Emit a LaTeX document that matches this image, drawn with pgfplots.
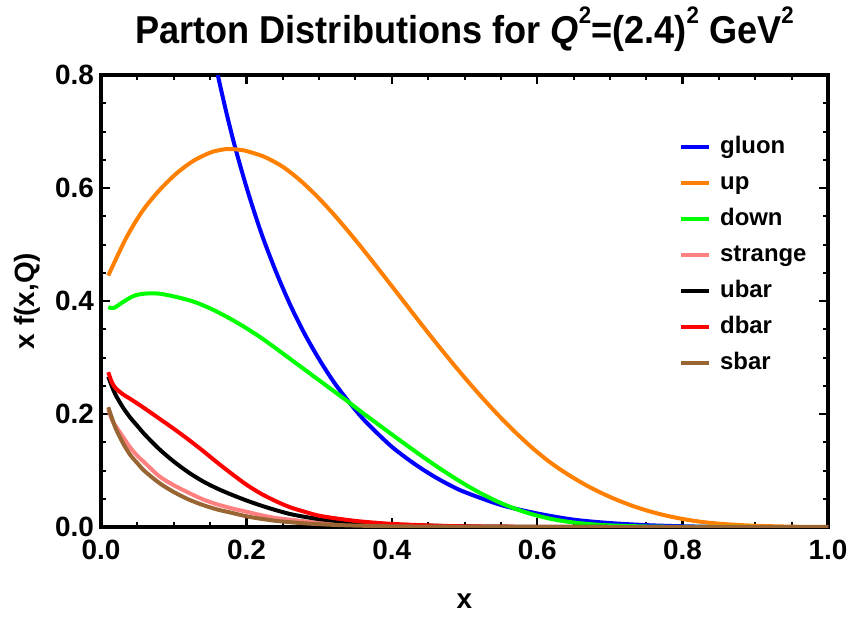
\documentclass[border=0pt]{standalone}
\usepackage{fontspec}
\setmainfont{Liberation Sans}
\newfontfamily\titlefont[FakeStretch=0.93]{Liberation Sans}
\usepackage{pgfplots}
\pgfplotsset{compat=1.18}

\definecolor{mmaorange}{rgb}{1,0.5,0}
\definecolor{mmapink}{rgb}{1,0.5,0.5}
\definecolor{mmabrown}{rgb}{0.6,0.4,0.2}

% superscript as drawn in the title
\newcommand\tsup[1]{\raisebox{0.5em}{\fontsize{24}{24}\selectfont #1}}

\begin{document}
\begin{tikzpicture}
\path[use as bounding box] (-101bp,-90bp) rectangle (752bp,527bp);
\begin{axis}[
  at={(0,0)}, anchor=south west,
  scale only axis, width=727bp, height=452bp,
  xmin=0, xmax=1, ymin=0, ymax=0.8,
  xtick={0,0.2,0.4,0.6,0.8,1.0},
  ytick={0,0.2,0.4,0.6,0.8},
  minor x tick num=3, minor y tick num=3,
  tick pos=both, xticklabel pos=lower, yticklabel pos=left,
  tick align=inside,
  major tick length=9bp, minor tick length=5bp,
  major tick style={line width=2.5bp, black},
  minor tick style={line width=2bp, black},
  axis line style={line width=3.5bp},
  /pgf/number format/assume math mode=true,
  xticklabel style={font=\fontsize{28}{28}\selectfont\bfseries, inner sep=0pt, yshift=-13bp,
    /pgf/number format/fixed, /pgf/number format/fixed zerofill, /pgf/number format/precision=1},
  yticklabel style={font=\fontsize{28}{28}\selectfont\bfseries, inner sep=0pt, xshift=-7bp,
    /pgf/number format/fixed, /pgf/number format/fixed zerofill, /pgf/number format/precision=1},
  title={Parton Distributions for {\itshape Q}\tsup{2}=(2.4)\tsup{2} GeV\tsup{2}},
  title style={font=\titlefont\fontsize{39}{39}\selectfont\bfseries, at={(0.5,1)}, anchor=base, inner sep=0pt, yshift=26bp},
  xlabel={x},
  xlabel style={font=\fontsize{28}{28}\selectfont\bfseries, at={(0.5,0)}, anchor=base, inner sep=0pt, yshift=-81bp},
  ylabel={x f(x,Q)},
  ylabel style={font=\fontsize{28}{28}\selectfont\bfseries, at={(0,0.5)}, anchor=center, inner sep=0pt, yshift=74bp},
  legend cell align=left,
  legend image code/.code={\draw[#1] (0bp,0bp) -- (28bp,0bp);},
  legend style={draw=none, fill=none, at={(0.795,0.867)}, anchor=north west,
    font=\fontsize{24}{24}\selectfont\bfseries, inner sep=0pt, row sep=12bp, column sep=9bp,
    nodes={inner sep=0pt, text height=18bp, text depth=6bp}},
  every axis plot/.append style={line width=4bp, smooth},
]
% gluon
\addplot[blue] coordinates {
(0.12,1.094) (0.14,0.934) (0.16,0.804) (0.18,0.694) (0.20,0.602) (0.22,0.522)
(0.24,0.454) (0.26,0.394) (0.28,0.342) (0.30,0.297) (0.32,0.257) (0.34,0.223)
(0.36,0.192) (0.38,0.166) (0.40,0.142) (0.42,0.122) (0.44,0.104) (0.46,0.088)
(0.48,0.074) (0.50,0.062) (0.55,0.039) (0.60,0.024) (0.65,0.013) (0.70,0.007)
(0.75,0.0033) (0.80,0.0013) (0.85,0.0003) (0.90,0.0) (1.0,0.0)};
\addlegendentry{gluon}
% up
\addplot[mmaorange] coordinates {
(0.01,0.445) (0.035,0.5125) (0.058,0.561) (0.081,0.597) (0.104,0.626) (0.127,0.648)
(0.15,0.6625) (0.165,0.6675) (0.175,0.669) (0.19,0.6678) (0.2,0.6655) (0.225,0.655)
(0.25,0.6376) (0.274,0.6135) (0.297,0.5854) (0.319,0.555) (0.342,0.5204) (0.366,0.4823)
(0.389,0.4446) (0.411,0.4081) (0.434,0.3699) (0.457,0.3322) (0.48,0.2955) (0.503,0.2602)
(0.526,0.2265) (0.549,0.1946) (0.572,0.1651) (0.595,0.1381) (0.618,0.1142) (0.641,0.094)
(0.664,0.0763) (0.686,0.0616) (0.709,0.0483) (0.732,0.037) (0.755,0.0276) (0.778,0.02)
(0.801,0.014) (0.824,0.0094) (0.847,0.0062) (0.87,0.0041) (0.9,0.0022) (0.95,0.0006)
(1.0,0.0)};
\addlegendentry{up}
% down
\addplot[green] coordinates {
(0.01,0.389) (0.018,0.388) (0.03,0.398) (0.045,0.409) (0.06,0.413) (0.08,0.413)
(0.104,0.407) (0.127,0.399) (0.15,0.387) (0.173,0.372) (0.196,0.355) (0.219,0.336)
(0.24,0.3167) (0.26,0.2977) (0.28,0.2787) (0.30,0.2597) (0.32,0.2407) (0.34,0.2217)
(0.36,0.2019) (0.38,0.1829) (0.40,0.1639) (0.42,0.1451) (0.44,0.1267) (0.46,0.1089)
(0.48,0.0919) (0.50,0.0759) (0.52,0.0613) (0.54,0.0483) (0.56,0.0371) (0.58,0.0277)
(0.60,0.0201) (0.62,0.0141) (0.64,0.0097) (0.66,0.0065) (0.68,0.0043) (0.70,0.0028)
(0.75,0.0009) (0.80,0.0002) (0.90,0.0) (1.0,0.0)};
\addlegendentry{down}
% strange
\addplot[mmapink] coordinates {
(0.01,0.208) (0.015,0.19) (0.02,0.179) (0.03,0.16) (0.04,0.141) (0.05,0.126)
(0.06,0.114) (0.08,0.090) (0.10,0.074) (0.12,0.061) (0.14,0.049) (0.16,0.040)
(0.18,0.033) (0.20,0.027) (0.22,0.021) (0.24,0.016) (0.26,0.013) (0.28,0.010)
(0.30,0.0075) (0.33,0.005) (0.36,0.0035) (0.40,0.002) (0.50,0.0005) (0.60,0.0) (1.0,0.0)};
\addlegendentry{strange}
% ubar
\addplot[black] coordinates {
(0.01,0.266) (0.015,0.249) (0.02,0.234) (0.03,0.212) (0.04,0.194) (0.05,0.179)
(0.06,0.164) (0.08,0.138) (0.10,0.116) (0.12,0.097) (0.14,0.081) (0.16,0.068)
(0.18,0.057) (0.20,0.047) (0.22,0.038) (0.24,0.030) (0.26,0.023) (0.28,0.018)
(0.30,0.014) (0.33,0.010) (0.36,0.007) (0.40,0.0045) (0.45,0.0025) (0.50,0.001)
(0.60,0.0002) (0.70,0.0) (1.0,0.0)};
\addlegendentry{ubar}
% dbar
\addplot[red] coordinates {
(0.01,0.274) (0.015,0.256) (0.02,0.246) (0.03,0.235) (0.04,0.227) (0.06,0.210)
(0.08,0.192) (0.10,0.174) (0.12,0.155) (0.14,0.135) (0.16,0.114) (0.18,0.094)
(0.20,0.075) (0.22,0.059) (0.24,0.046) (0.26,0.035) (0.28,0.027) (0.30,0.020)
(0.33,0.014) (0.36,0.0095) (0.40,0.0055) (0.45,0.0028) (0.50,0.0012) (0.60,0.0002)
(0.70,0.0) (1.0,0.0)};
\addlegendentry{dbar}
% sbar
\addplot[mmabrown] coordinates {
(0.01,0.212) (0.015,0.193) (0.02,0.175) (0.03,0.149) (0.04,0.128) (0.05,0.113)
(0.06,0.099) (0.08,0.078) (0.10,0.062) (0.12,0.049) (0.14,0.039) (0.16,0.031)
(0.18,0.025) (0.20,0.019) (0.22,0.0145) (0.24,0.011) (0.26,0.0085) (0.28,0.0065)
(0.30,0.005) (0.33,0.0033) (0.36,0.0022) (0.40,0.0012) (0.50,0.0003) (0.60,0.0) (1.0,0.0)};
\addlegendentry{sbar}
\end{axis}
\end{tikzpicture}
\end{document}
